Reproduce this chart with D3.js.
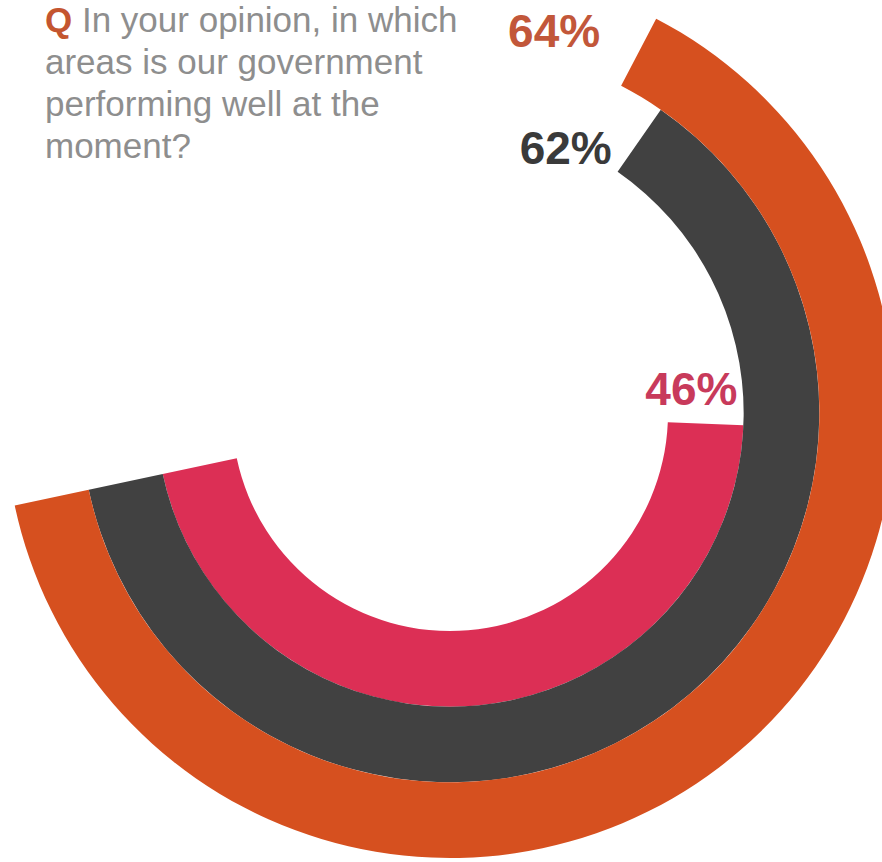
<!DOCTYPE html>
<meta charset="utf-8">
<style>
  body { margin: 0; background: #fff; }
  svg { display: block; font-family: "Liberation Sans", Arial, sans-serif; }
  .q { fill: #8e8e8e; font-size: 35px; }
  .q .mark { fill: #c4552f; font-weight: bold; }
  .pct { font-size: 46px; font-weight: bold; text-anchor: end; }
</style>
<body>
<script src="https://d3js.org/d3.v7.min.js"></script>
<script>
  // data (inner ring first)
  var rings = ["inner", "middle", "outer"];
  var values = [46, 62, 64];
  var labels = ["46%", "62%", "64%"];
  var question = ["In your opinion, in which", "areas is our government",
                  "performing well at the", "moment?"];

  var width = 882, height = 862;
  var cx = 450, cy = 413;
  var colors = ["#dc2f55", "#414141", "#d6501f"];
  var textColors = ["#c83a5b", "#3a3a3a", "#c2573a"];
  // label offset from the outer corner of each arc's end
  var labelOffset = [[-6, -20], [-49, 54], [-56, 28]];

  var svg = d3.select("body").append("svg")
    .attr("width", width)
    .attr("height", height);

  // scales
  var startAngle = 258 * Math.PI / 180;
  var angle = d3.scaleLinear().domain([0, 100]).range([0, 2 * Math.PI]);
  var radius = d3.scaleBand().domain(rings).range([218, 445]).padding(0);

  var arc = d3.arc()
    .innerRadius(function (d, i) { return radius(rings[i]); })
    .outerRadius(function (d, i) { return radius(rings[i]) + radius.bandwidth(); })
    .startAngle(startAngle)
    .endAngle(function (d) { return startAngle - angle(d); });

  var g = svg.append("g")
    .attr("transform", "translate(" + cx + "," + cy + ")");

  g.selectAll(".ring")
    .data(values)
    .enter().append("path")
    .attr("class", "ring")
    .attr("d", arc)
    .attr("fill", function (d, i) { return colors[i]; });

  // value labels near the end of each arc
  g.selectAll(".pct")
    .data(values)
    .enter().append("text")
    .attr("class", "pct")
    .attr("x", function (d, i) {
      var a = startAngle - angle(d), r = radius(rings[i]) + radius.bandwidth();
      return r * Math.sin(a) + labelOffset[i][0];
    })
    .attr("y", function (d, i) {
      var a = startAngle - angle(d), r = radius(rings[i]) + radius.bandwidth();
      return -r * Math.cos(a) + labelOffset[i][1];
    })
    .attr("fill", function (d, i) { return textColors[i]; })
    .text(function (d, i) { return labels[i]; });

  // question text
  var q = svg.append("text").attr("class", "q");
  question.forEach(function (line, i) {
    var t = q.append("tspan").attr("x", 45).attr("y", 32 + i * 42);
    if (i === 0) {
      t.append("tspan").attr("class", "mark").text("Q ");
    }
    t.append("tspan").text(line);
  });
</script>
</body>
